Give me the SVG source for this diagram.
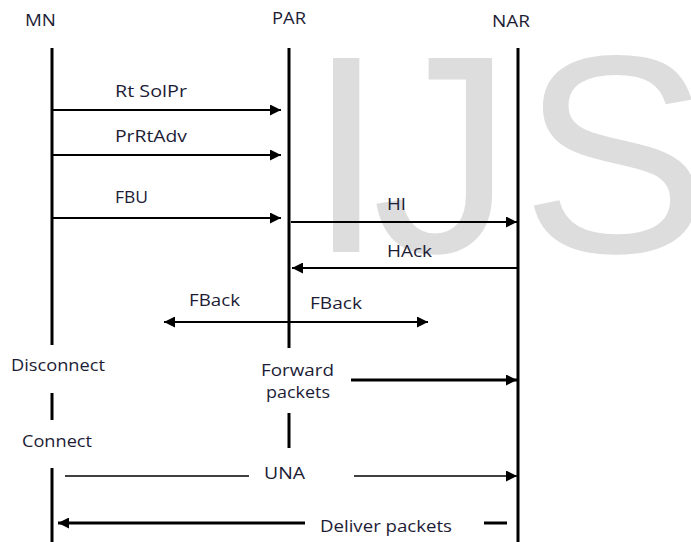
<svg xmlns="http://www.w3.org/2000/svg" width="691" height="542" viewBox="0 0 691 542">
<style>
.wm{font-family:"Liberation Sans",Arial,sans-serif;font-size:282px;fill:#dddddd}
.t{font-family:"Open Sans","DejaVu Sans",sans-serif;font-size:17px;fill:#1c1c36}
.life{stroke:#000;stroke-width:3;fill:none}
.msg{stroke:#000;stroke-width:1.8;fill:none}
.thick{stroke:#000;stroke-width:3;fill:none}
.thin{stroke:#000;stroke-width:1.5;fill:none}
</style>
<defs>
<marker id="ah" markerUnits="userSpaceOnUse" markerWidth="11" markerHeight="11" refX="10" refY="5" orient="auto-start-reverse" viewBox="0 0 10 10">
<path d="M0,0 L10,5 L0,10 z" fill="#000"/>
</marker>
</defs>
<rect width="691" height="542" fill="#fff"/>
<g id="watermark">
<text class="wm" x="307" y="252">I</text>
<text class="wm" x="372" y="252">J</text>
<text class="wm" x="521" y="252">S</text>
</g>

<g id="MN">
<text class="t" x="25" y="26" textLength="31" lengthAdjust="spacingAndGlyphs">MN</text>
<path class="life" d="M52,48 V345 M52,393 V420 M52,468 V542"/>
</g>
<g id="PAR">
<text class="t" x="272" y="24" textLength="34" lengthAdjust="spacingAndGlyphs">PAR</text>
<path class="life" d="M289,48 V348 M289,413 V448"/>
</g>
<g id="NAR">
<text class="t" x="492" y="27" textLength="38" lengthAdjust="spacingAndGlyphs">NAR</text>
<path class="life" d="M518,48 V542"/>
</g>
<g id="disconnect">
<text class="t" x="11" y="371" textLength="94" lengthAdjust="spacingAndGlyphs">Disconnect</text>
</g>
<g id="connect">
<text class="t" x="22" y="447" textLength="70" lengthAdjust="spacingAndGlyphs">Connect</text>
</g>

<g id="connectors">
<path class="msg" d="M53,110 H281" marker-end="url(#ah)"/>
<text class="t" x="115" y="97" textLength="72" lengthAdjust="spacingAndGlyphs">Rt SolPr</text>
<path class="msg" d="M53,155 H281" marker-end="url(#ah)"/>
<text class="t" x="115" y="142" textLength="72" lengthAdjust="spacingAndGlyphs">PrRtAdv</text>
<path class="msg" d="M53,218 H281" marker-end="url(#ah)"/>
<text class="t" x="115" y="203" textLength="33" lengthAdjust="spacingAndGlyphs">FBU</text>
<path class="msg" d="M291,222 H517" marker-end="url(#ah)"/>
<text class="t" x="387" y="210" textLength="19" lengthAdjust="spacingAndGlyphs">HI</text>
<path class="msg" d="M517,268 H292" marker-end="url(#ah)"/>
<text class="t" x="387" y="257" textLength="45" lengthAdjust="spacingAndGlyphs">HAck</text>
<path class="msg" d="M164,322 H428" marker-start="url(#ah)" marker-end="url(#ah)"/>
<text class="t" x="189" y="306" textLength="51" lengthAdjust="spacingAndGlyphs">FBack</text>
<text class="t" x="310" y="309" textLength="52" lengthAdjust="spacingAndGlyphs">FBack</text>
<path class="thick" d="M351,380 H517" marker-end="url(#ah)"/>
<text class="t" x="261" y="376" textLength="73" lengthAdjust="spacingAndGlyphs">Forward</text>
<text class="t" x="266" y="398" textLength="64" lengthAdjust="spacingAndGlyphs">packets</text>
<path class="thin" d="M65,476 H249"/>
<path class="thin" d="M354,476 H517" marker-end="url(#ah)"/>
<text class="t" x="264" y="479" textLength="41" lengthAdjust="spacingAndGlyphs">UNA</text>
<path class="thick" d="M507,523 H484"/>
<path class="thick" d="M305,523 H58" marker-end="url(#ah)"/>
<text class="t" x="320" y="532" textLength="132" lengthAdjust="spacingAndGlyphs">Deliver packets</text>
</g>
</svg>
